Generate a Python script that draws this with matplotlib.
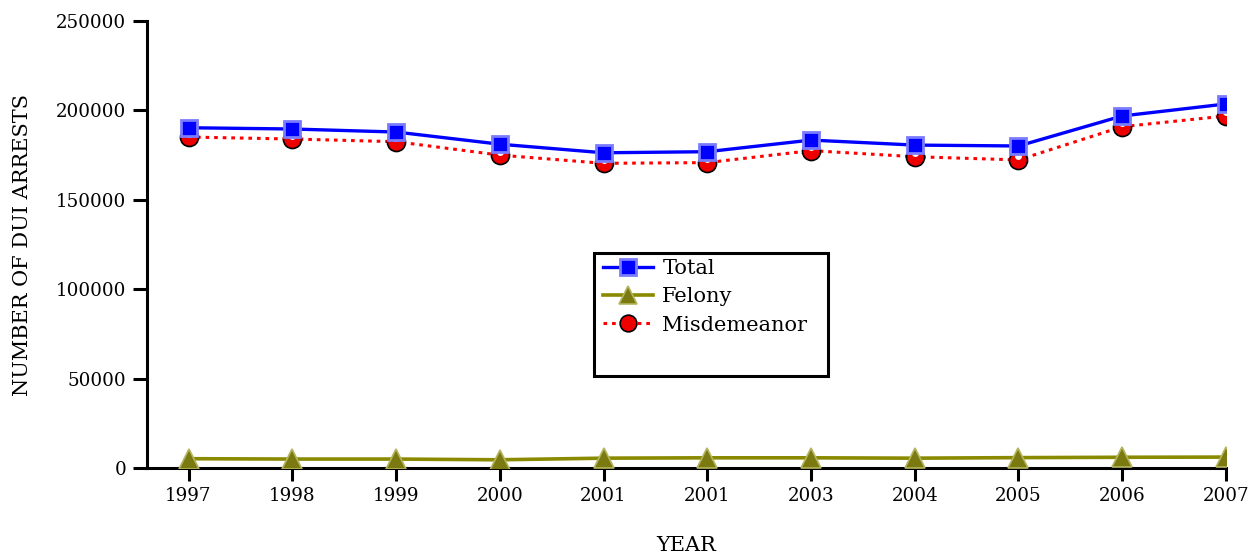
import matplotlib
matplotlib.use("Agg")
import matplotlib.pyplot as plt
from matplotlib.lines import Line2D
from matplotlib.patches import Rectangle
import matplotlib.transforms as mtrans

years = ["1997", "1998", "1999", "2000", "2001", "2001", "2003", "2004", "2005", "2006", "2007"]
total = [190300, 189600, 187900, 181100, 176300, 176900, 183400, 180600, 180100, 196900, 203600]
felony = [5200, 5000, 5000, 4600, 5500, 5700, 5700, 5500, 5800, 6000, 6100]
misdemeanor = [185100, 184000, 182500, 175000, 170400, 170800, 177500, 174100, 172300, 190900, 196900]
yticks = [0, 50000, 100000, 150000, 200000, 250000]

plt.rcParams['font.family'] = ['DejaVu Serif']
fig = plt.figure(figsize=(12.52, 5.54), dpi=100)
ax = fig.add_axes([147/1252, (554-468)/554, (1226-147)/1252, (468-21)/554])
x = list(range(len(years)))

# Misdemeanor
ax.plot(x, misdemeanor, color='#ff0000', lw=2.2, ls=(0, (1.2, 1.6)), zorder=3)
ax.plot(x, misdemeanor, ls='none', marker='o', ms=13, mfc='#ee0000', mec='black', mew=1.2, zorder=4)
hl = mtrans.offset_copy(ax.transData, fig=fig, x=0, y=2.5, units='points')
ax.plot(x, misdemeanor, ls='none', marker='o', ms=5, mfc='white', mec='none', transform=hl, zorder=4.5)

# Total
ax.plot(x, total, color='#0000ff', lw=2.4, zorder=5)
ax.plot(x, total, ls='none', marker='s', ms=12, mfc='#0000ff', mec='#7b7bff', mew=2, zorder=6)

# Felony
ax.plot(x, felony, color='#8a8a00', lw=2.6, zorder=5)
ax.plot(x, felony, ls='none', marker='^', ms=14, mfc='#7a7a10', mec='#b5b560', mew=1.2, zorder=6)

ax.set_xlim(-0.4, 10)
ax.set_ylim(0, 250000)
ax.set_yticks(yticks)
ax.set_yticklabels([str(v) for v in yticks])
ax.set_xticks(x)
ax.set_xticklabels(years)
for s in ['top', 'right']:
    ax.spines[s].set_visible(False)
for s in ['left', 'bottom']:
    ax.spines[s].set_linewidth(2.2)
ax.tick_params(axis='both', direction='out', width=2.2, labelsize=13.2, colors='black')
ax.tick_params(axis='y', length=10, pad=5)
ax.tick_params(axis='x', length=9, pad=5)

ax.set_ylabel('NUMBER OF DUI ARRESTS', fontsize=15, labelpad=17)
ax.set_xlabel('YEAR', fontsize=15, labelpad=22)

# legend frame
ax.add_patch(Rectangle((0.4143, 0.2058), 0.2169, 0.2752, transform=ax.transAxes,
                       facecolor='white', edgecolor='black', lw=2.2, zorder=9, clip_on=False))

handles = [
    Line2D([], [], color='#0000ff', lw=2.4, marker='s', ms=11, mfc='#0000ff', mec='#7b7bff', mew=2),
    Line2D([], [], color='#8a8a00', lw=2.6, marker='^', ms=13, mfc='#7a7a10', mec='#b5b560', mew=1.2),
    Line2D([], [], color='#ff0000', lw=2.2, ls=(0, (1.2, 1.6)), marker='o', ms=12, mfc='#ee0000', mec='black', mew=1.2),
]
leg = ax.legend(handles, ['Total', 'Felony', 'Misdemeanor'], loc='upper left',
                bbox_to_anchor=(0.4226, 0.4676), fontsize=15, frameon=False,
                borderpad=0, labelspacing=0.45, handlelength=2.4,
                handletextpad=0.45, borderaxespad=0)
leg.set_zorder(10)

fig.savefig('out.png', dpi=100)
